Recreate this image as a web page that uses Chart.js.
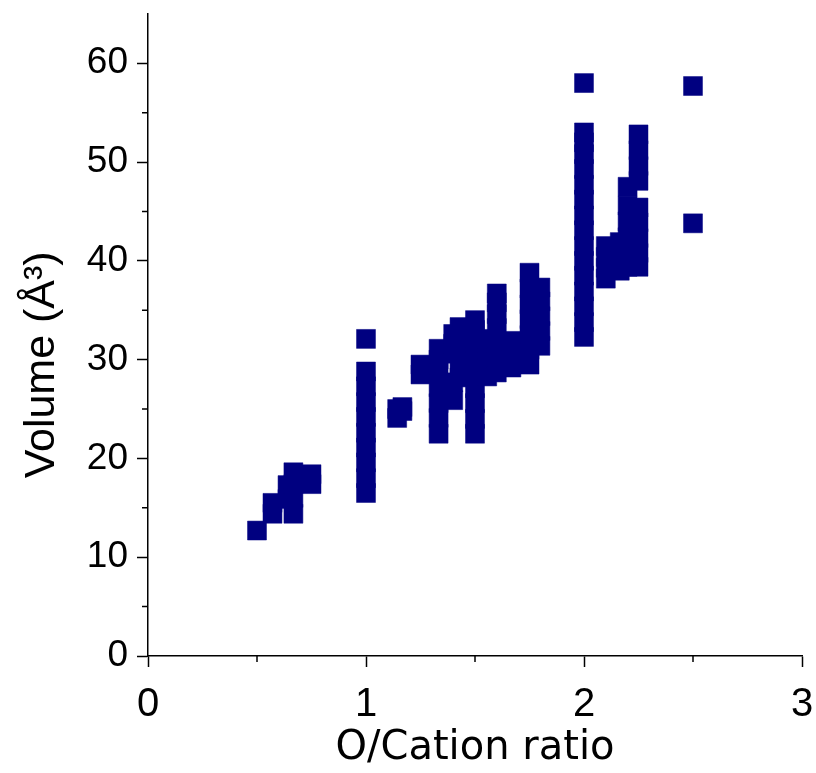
<!DOCTYPE html>
<html>
<head>
<meta charset="utf-8">
<script src="https://cdn.jsdelivr.net/npm/chart.js@4.4.1/dist/chart.umd.min.js"></script>
<style>
  html, body { margin: 0; padding: 0; background: #fff; }
  #wrap { width: 816px; height: 773px; }
</style>
</head>
<body>
<div id="wrap"><canvas id="myChart"></canvas></div>
<script>
// one entry per O/Cation ratio, volumes (stacked squares)
const oCationRatio = [0.5, 0.571, 0.64, 0.667, 0.75, 1.0, 1.143, 1.167, 1.25, 1.333, 1.4, 1.429,
  1.5, 1.556, 1.6, 1.667, 1.75, 1.8, 2.0, 2.1, 2.164, 2.2, 2.25, 2.5];
const volumeByRatio = [
  [12.7],
  [14.4, 15.5],
  [15.9, 17.3],
  [14.4, 16.0, 17.4, 18.6],
  [17.4, 18.4],
  [16.5, 18.0, 19.6, 21.1, 22.6, 24.2, 25.7, 27.3, 28.8, 32.1],
  [24.1, 25.0],
  [24.8, 25.2],
  [28.5, 29.5],
  [22.5, 24.1, 25.6, 27.2, 28.7, 30.0, 31.1],
  [25.9, 27.7, 30.6, 31.6, 32.6],
  [28.2, 29.6, 31.0, 32.2, 33.3],
  [22.5, 24.0, 25.6, 27.1, 28.6, 30.2, 31.7, 33.0, 34.0],
  [28.3, 29.7, 31.0, 32.1],
  [28.7, 30.2, 31.7, 33.2, 34.6, 35.8, 36.7],
  [29.2, 30.6, 31.9],
  [29.5, 31.0, 32.5, 34.1, 35.6, 37.2, 38.8],
  [31.4, 32.9, 34.4, 35.9, 37.3],
  [32.3, 33.8, 35.4, 36.9, 38.5, 40.0, 41.5, 43.1, 44.6, 46.2, 47.7, 49.3, 50.8, 52.0, 53.0, 58.0],
  [38.2, 39.3, 40.4, 41.5],
  [39.0, 40.5, 41.9],
  [39.4, 40.9, 42.4, 44.0, 45.6, 47.5],
  [39.4, 40.8, 42.3, 43.9, 45.4, 48.1, 49.6, 51.2, 52.8],
  [43.8, 57.7]
];
const xMinorTicks = [0.5, 1.5, 2.5];
const yMinorTicks = [5, 15, 25, 35, 45, 55];

const points = [];
oCationRatio.forEach((r, i) => {
  volumeByRatio[i].forEach((v) => points.push({ x: r, y: v }));
});

// small outward minor ticks like the origin plot
const minorTicks = {
  id: 'minorTicks',
  afterDraw(chart) {
    const ctx = chart.ctx;
    const xs = chart.scales.x, ys = chart.scales.y;
    ctx.save();
    ctx.strokeStyle = '#000';
    ctx.lineWidth = 1.5;
    ctx.beginPath();
    xMinorTicks.forEach((v) => {
      const px = xs.getPixelForValue(v);
      ctx.moveTo(px, xs.top);
      ctx.lineTo(px, xs.top + 6);
    });
    yMinorTicks.forEach((v) => {
      const py = ys.getPixelForValue(v);
      ctx.moveTo(ys.right, py);
      ctx.lineTo(ys.right - 6, py);
    });
    ctx.stroke();
    ctx.restore();
  }
};

new Chart(document.getElementById('myChart').getContext('2d'), {
  type: 'scatter',
  data: {
    datasets: [{
      data: points,
      pointStyle: 'rect',
      pointRadius: 13.4,
      backgroundColor: '#000080',
      borderColor: '#000080',
      borderWidth: 0.5
    }]
  },
  plugins: [minorTicks],
  options: {
    responsive: true,
    maintainAspectRatio: false,
    animation: false,
    events: [],
    layout: { padding: { top: 12, right: 14, left: 0, bottom: 0 } },
    plugins: { legend: { display: false }, tooltip: { enabled: false } },
    scales: {
      x: {
        type: 'linear',
        min: 0,
        max: 3,
        afterFit: (s) => { s.height = 117; s.paddingLeft = 0; s.paddingRight = 0; },
        border: { display: true, color: '#000', width: 1.5 },
        grid: { drawOnChartArea: false, drawTicks: true, tickLength: 11, tickColor: '#000', tickWidth: 1.5 },
        ticks: {
          stepSize: 1,
          color: '#000',
          padding: 14,
          maxRotation: 0,
          font: { family: "'Liberation Sans Narrow', 'Liberation Sans', Arial", size: 40 }
        },
        title: {
          display: true,
          text: 'O/Cation ratio',
          color: '#000',
          padding: { top: 0, bottom: 0 },
          font: { family: "'DejaVu Sans', Arial", size: 40 }
        }
      },
      y: {
        type: 'linear',
        min: 0,
        max: 65,
        afterFit: (s) => { s.width = 148; s.paddingTop = 0; s.paddingBottom = 0; },
        border: { display: true, color: '#000', width: 1.5 },
        grid: { drawOnChartArea: false, drawTicks: true, tickLength: 11, tickColor: '#000', tickWidth: 1.5 },
        ticks: {
          stepSize: 10,
          includeBounds: false,
          color: '#000',
          padding: 9,
          font: { family: "'Liberation Sans', Arial", size: 37 }
        },
        title: {
          display: true,
          // trailing spaces push the visible text down like in the original
          text: 'Volume (Å³)     ',
          color: '#000',
          padding: { top: 16, bottom: 0 },
          font: { family: "'Liberation Sans', Arial", size: 43 }
        }
      }
    }
  }
});
</script>
</body>
</html>
